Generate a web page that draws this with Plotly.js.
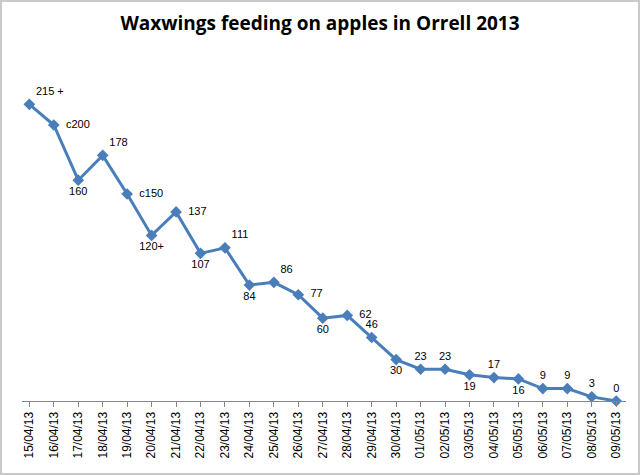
<!DOCTYPE html>
<html>
<head>
<meta charset="utf-8">
<script src="https://cdn.plot.ly/plotly-3.0.1.min.js"></script>
<style>
  body { margin: 0; background: #fff; }
  #chart { width: 636px; height: 471px; border: 2px solid #c9c9c9; }
</style>
</head>
<body>
<div id="chart"></div>
<script>
const dates = ['15/04/13','16/04/13','17/04/13','18/04/13','19/04/13','20/04/13','21/04/13',
  '22/04/13','23/04/13','24/04/13','25/04/13','26/04/13','27/04/13','28/04/13','29/04/13',
  '30/04/13','01/05/13','02/05/13','03/05/13','04/05/13','05/05/13','06/05/13','07/05/13',
  '08/05/13','09/05/13'];
const counts = [215, 200, 160, 178, 150, 120, 137, 107, 111, 84, 86, 77, 60, 62, 46,
  30, 23, 23, 19, 17, 16, 9, 9, 3, 0];
const labels = ['215 +','c200','160','178','c150','120+','137','107','111','84','86','77','60',
  '62','46','30','23','23','19','17','16','9','9','3','0'];
const labelPos = ['top right','middle right','bottom center','top right','middle right',
  'bottom center','middle right','bottom center','top right','bottom center','top right',
  'middle right','bottom center','middle right','top center','bottom center','top center',
  'top center','bottom center','top center','bottom center','top center','top center',
  'top center','top center'];

// pad right-side labels a little so they sit clear of the markers
const shownText = labels.map((t, i) => labelPos[i] === 'middle right' ? '\u2002' + t : t);

const trace = {
  type: 'scatter',
  mode: 'lines+markers+text',
  x: dates,
  y: counts,
  text: shownText,
  textposition: labelPos,
  textfont: { family: 'Liberation Sans, Arial', size: 11, color: '#000' },
  line: { color: '#4a7ebb', width: 3 },
  marker: { symbol: 'diamond', size: 9, color: '#4a7ebb' },
  cliponaxis: false,
  hoverinfo: 'x+y'
};

const layout = {
  width: 636,
  height: 471,
  margin: { l: 20, r: 12, t: 54, b: 72 },
  paper_bgcolor: '#fff',
  plot_bgcolor: '#fff',
  showlegend: false,
  title: {
    text: '<b>Waxwings feeding on apples in Orrell 2013</b>',
    font: { family: 'Open Sans, Liberation Sans', size: 19, color: '#000' },
    x: 0.5, y: 0.955, yanchor: 'middle'
  },
  xaxis: {
    type: 'category',
    range: [-0.3, 24.4],
    tickangle: -90,
    tickfont: { family: 'Liberation Sans, Arial', size: 12, color: '#000' },
    showline: true,
    linecolor: '#868686',
    ticks: 'outside',
    ticklen: 5,
    tickcolor: '#868686',
    showgrid: false,
    zeroline: false
  },
  yaxis: {
    range: [0, 250],
    visible: false,
    showgrid: false,
    zeroline: false
  }
};

Plotly.newPlot('chart', [trace], layout, { displayModeBar: false, staticPlot: true });
</script>
</body>
</html>
